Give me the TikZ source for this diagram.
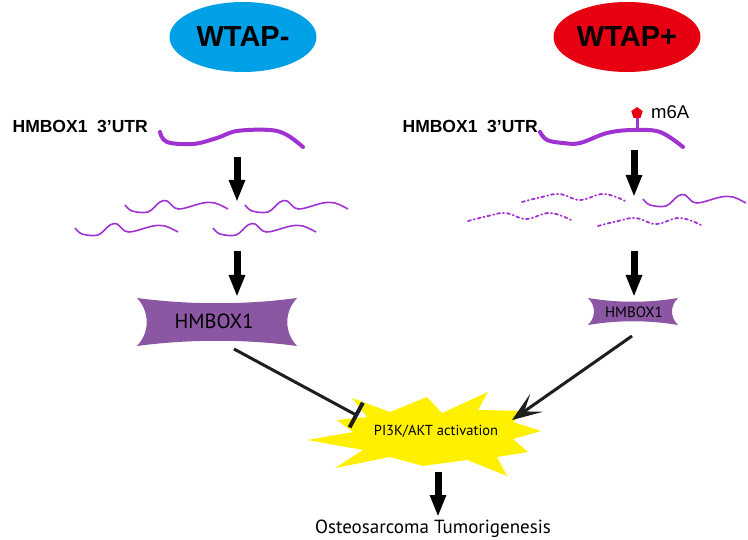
\documentclass[tikz,border=0pt]{standalone}
\usepackage{fontspec}
\setmainfont{Liberation Sans}
\newfontfamily\myr{PT Sans}
\usetikzlibrary{arrows.meta,shapes.geometric}
\definecolor{wcyan}{RGB}{0,160,230}
\definecolor{wred}{RGB}{230,0,18}
\definecolor{rna}{RGB}{160,50,210}
\definecolor{boxp}{RGB}{139,87,163}
\definecolor{burst}{RGB}{255,240,0}
\definecolor{dk}{RGB}{30,30,30}
\newcommand\solidfrag[1]{\draw[frag,shift={#1}] plot[smooth,tension=0.55] coordinates {(0,0) (7,6) (23,7) (35,-3) (42,-4) (50,3) (58,3.5) (78,-2) (90,-2) (103,4)};}
\newcommand\dotfrag[1]{\draw[dfrag,shift={#1}] plot[smooth,tension=0.7] coordinates {(0,2) (20,-3) (38,-6) (58,0) (82,-6) (105,2)};}
\begin{document}
\begin{tikzpicture}[x=1pt,y=-1pt,
  wtap/.style={ellipse, inner sep=0, minimum width=147pt, minimum height=70pt, font=\fontsize{29}{30}\selectfont\bfseries},
  utr/.style={inner sep=0, font=\fontsize{17.5}{18}\selectfont\bfseries},
  utrline/.style={draw=rna, line width=4pt, line cap=round},
  frag/.style={draw=rna, line width=1.6pt},
  dfrag/.style={draw=rna, line width=1.8pt, line cap=round, dash pattern=on 3pt off 3pt on 1pt off 3pt},
  blockarrow/.style={draw=black, line width=7pt, -{Triangle[width=15pt,length=22pt]}},
  ribbon/.style={fill=boxp},
  boxtext/.style={inner sep=0, font=\myr},
  conn/.style={draw=dk, line width=3pt}
]
\useasboundingbox (0,0) rectangle (748,540);

% WTAP ellipses
\node[wtap, fill=wcyan] (wtapm) at (243,37) {WTAP-};
\node[wtap, fill=wred] (wtapp) at (627,37) {WTAP+};

% UTR labels
\node[utr, anchor=base east] (utrL) at (148,133) {HMBOX1\ \ 3’UTR};
\node[utr, anchor=base east] (utrR) at (538,133) {HMBOX1\ \ 3’UTR};

% UTR strands
\draw[utrline] plot[smooth,tension=0.6] coordinates {(160,132) (167,142) (193,144) (217,138) (237,131) (270,130) (287,135) (303,147)};
\draw[utrline] plot[smooth,tension=0.6] coordinates {(540,132) (547,140) (563,143) (580,143) (607,133) (633,130) (660,132) (683,147)};

% m6A mark
\draw[draw=rna, line width=3pt] (637,130) -- (637,117);
\node[regular polygon, regular polygon sides=5, fill=wred, inner sep=0, minimum size=12pt] (pent) at (637,113) {};
\node[inner sep=0, anchor=west, font=\fontsize{18.5}{19}\selectfont] (m6a) at (651,112) {m6A};

% first arrows
\coordinate (a1s) at (237,157); \coordinate (a1e) at (237,202);
\coordinate (b1s) at (634,150); \coordinate (b1e) at (634,197);
\draw[blockarrow] (a1s) -- (a1e);
\draw[blockarrow] (b1s) -- (b1e);

% fragments left
\solidfrag{(125,205)}
\solidfrag{(245,205)}
\solidfrag{(75,228)}
\solidfrag{(213,228)}

% fragments right
\dotfrag{(522,200)}
\solidfrag{(643,199)}
\dotfrag{(468,219)}
\dotfrag{(598,224)}

% second arrows
\coordinate (a2s) at (237,251); \coordinate (a2e) at (237,297);
\coordinate (b2s) at (634,251); \coordinate (b2e) at (634,297);
\draw[blockarrow] (a2s) -- (a2e);
\draw[blockarrow] (b2s) -- (b2e);

% HMBOX1 ribbons
\fill[ribbon] (137,298) .. controls (190,305) and (245,305) .. (297,298)
  .. controls (284,312) and (284,332) .. (297,346)
  .. controls (245,339) and (190,339) .. (137,346)
  .. controls (150,332) and (150,312) .. (137,298) -- cycle;
\node[boxtext, font=\myr\fontsize{20.5}{21}\selectfont] (hbl) at (214,321) {HMBOX1};

\fill[ribbon] (588,298) .. controls (618,303) and (648,303) .. (678,298)
  .. controls (670,306) and (670,317) .. (678,325)
  .. controls (648,320) and (618,320) .. (588,325)
  .. controls (596,317) and (596,306) .. (588,298) -- cycle;
\node[boxtext, font=\myr\fontsize{15}{16}\selectfont] (hbr) at (634,312) {HMBOX1};

% starburst
\fill[burst] (352,398) -- (390,412) -- (427,397) -- (442,413) -- (488,392) -- (478,410)
  -- (527,411) -- (513,422) -- (541,431) -- (513,439) -- (528,452) -- (497,457)
  -- (507,476) -- (467,460) -- (423,466) -- (390,457) -- (335,468) -- (363,450)
  -- (307,440) -- (353,432) -- (337,420) -- (367,417) -- cycle;
\node[boxtext, font=\myr\fontsize{14.5}{15}\selectfont] (pik) at (436,431) {PI3K/AKT activation};

% connectors to PI3K
\coordinate (inhs) at (234,349); \coordinate (inhe) at (358,416);
\draw[conn, -{Bar[width=28pt,line width=4pt]}] (inhs) -- (inhe);
\coordinate (acts) at (632,336); \coordinate (acte) at (512,420);
\draw[conn, -{Stealth[length=30pt,width=22pt,inset=15pt]}] (acts) -- (acte);

% bottom arrow and outcome
\coordinate (c1s) at (438,472); \coordinate (c1e) at (438,517);
\draw[blockarrow] (c1s) -- (c1e);
\node[boxtext, anchor=base, font=\myr\fontsize{19}{20}\selectfont] (ost) at (433,533) {Osteosarcoma Tumorigenesis};
\end{tikzpicture}
\end{document}
